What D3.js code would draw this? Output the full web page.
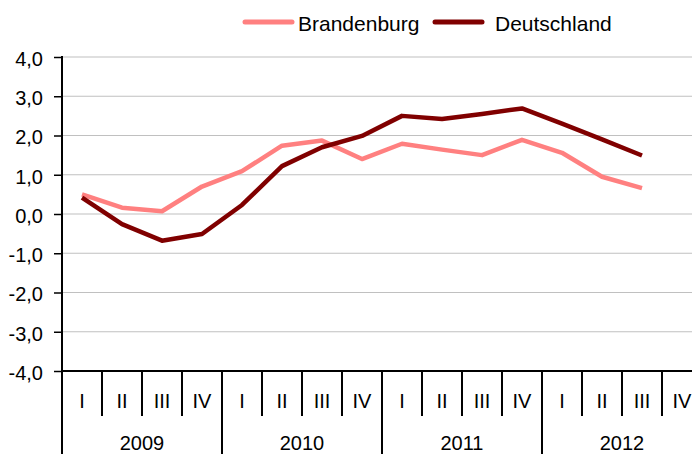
<!DOCTYPE html>
<html><head><meta charset="utf-8">
<script src="https://cdn.jsdelivr.net/npm/d3@7"></script>
<style>body{margin:0;background:#fff}svg{display:block}text{font-family:"Liberation Sans",Arial,sans-serif}</style>
</head><body>
<svg id="c" width="692" height="454"></svg>
<script>
const years = ["2009","2010","2011","2012"];
const quarters = ["I","II","III","IV"];
const brandenburg = [0.50,0.16,0.07,0.70,1.09,1.74,1.87,1.40,1.79,1.64,1.50,1.89,1.56,0.95,0.66];
const deutschland = [0.42,-0.26,-0.68,-0.51,0.23,1.22,1.70,1.99,2.50,2.42,2.55,2.69,2.30,1.90,1.49];
const yTicks = [-4,-3,-2,-1,0,1,2,3,4];
const seriesNames = ["Brandenburg","Deutschland"];
const colors = ["#ff8080","#800000"];

(function(){
const cats = [];
years.forEach(y=>quarters.forEach(q=>cats.push(y+"-"+q)));

const svg = d3.select("#c");
const pL=62, pR=702, pT=57, pB=371;
const x = d3.scaleBand().domain(cats).range([pL,pR]);
const y = d3.scaleLinear().domain([-4,4]).range([pB,pT]);
const fmt = v => d3.format(".1f")(v).replace(".",",").replace("−","-");

svg.append("g").selectAll("line").data(yTicks.filter(v=>v>-4)).join("line")
  .attr("x1",pL).attr("x2",692).attr("y1",d=>y(d)).attr("y2",d=>y(d))
  .attr("stroke","#c0c0c0").attr("stroke-width",1.2);

const ya = svg.append("g").attr("transform",`translate(${pL},0)`)
  .call(d3.axisLeft(y).tickValues(yTicks).tickFormat(fmt).tickSize(8).tickPadding(11));
ya.select(".domain").remove();
ya.selectAll(".tick line").attr("stroke","#000").attr("stroke-width",1.5);
ya.selectAll("text").attr("font-size",20).attr("fill","#000").attr("font-family",null).attr("dy","0.42em");
svg.append("line").attr("x1",pL).attr("x2",pL).attr("y1",pT-1).attr("y2",454).attr("stroke","#000").attr("stroke-width",2);

svg.append("line").attr("x1",pL).attr("x2",692).attr("y1",pB).attr("y2",pB).attr("stroke","#000").attr("stroke-width",2);
const xa = svg.append("g");
cats.forEach((c,i)=>{
  const x0 = x(c);
  if(i>0){
    const isYear = i%4===0;
    xa.append("line").attr("x1",x0).attr("x2",x0).attr("y1",pB).attr("y2",isYear?454:416)
      .attr("stroke","#000").attr("stroke-width",2);
  }
  xa.append("text").attr("x",x0+x.bandwidth()/2).attr("y",408).attr("text-anchor","middle")
    .attr("font-size",20).text(c.split("-")[1]);
});
years.forEach(yr=>{
  const a = x(yr+"-I"), b = x(yr+"-IV")+x.bandwidth();
  xa.append("text").attr("x",(a+b)/2).attr("y",450).attr("text-anchor","middle").attr("font-size",20).text(yr);
});

const line = d3.line().x((d,i)=>x(cats[i])+x.bandwidth()/2).y(d=>y(d));
[brandenburg,deutschland].forEach((s,k)=>{
  svg.append("path").datum(s).attr("d",line).attr("fill","none")
    .attr("stroke",colors[k]).attr("stroke-width",4.5).attr("stroke-linejoin","round");
});

const lg = [{x:245,tx:298},{x:435,tx:495}];
seriesNames.forEach((n,k)=>{
  svg.append("line").attr("x1",lg[k].x).attr("x2",lg[k].x+47).attr("y1",22).attr("y2",22)
    .attr("stroke",colors[k]).attr("stroke-width",5).attr("stroke-linecap","round");
  svg.append("text").attr("x",lg[k].tx).attr("y",31).attr("font-size",21).text(n);
});
})();
</script>
</body></html>
